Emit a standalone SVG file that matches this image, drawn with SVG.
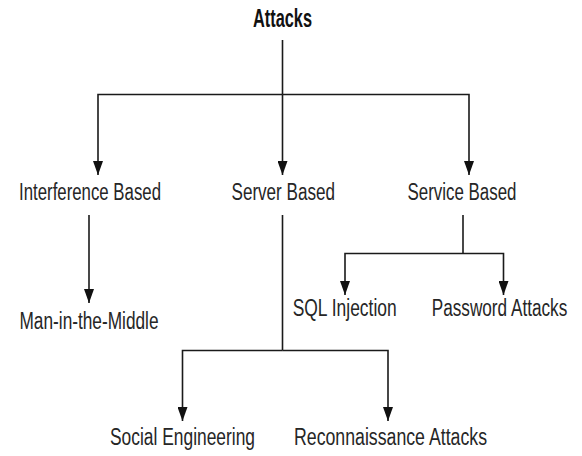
<svg xmlns="http://www.w3.org/2000/svg" width="582" height="456" viewBox="0 0 582 456">
<style>
.lbl{font-family:"Liberation Sans",Arial,sans-serif;font-size:23px;fill:#262626;}
.title{font-family:"Liberation Sans",Arial,sans-serif;font-size:25px;font-weight:bold;fill:#111;}
.c{fill:none;stroke:#1a1a1a;stroke-width:1.6;}
</style>
<defs>
<marker id="ah" viewBox="0 0 14 10" markerWidth="14" markerHeight="10" refX="14" refY="5" orient="auto" markerUnits="userSpaceOnUse">
<path d="M0,0 L14,5 L0,10 z" fill="#111"/>
</marker>
</defs>
<rect width="582" height="456" fill="#fff"/>
<g id="connectors">
<path class="c" d="M282.5,40 V94.5"/>
<path class="c" d="M282.5,94.5 H98 V175" marker-end="url(#ah)"/>
<path class="c" d="M282.5,94.5 V175" marker-end="url(#ah)"/>
<path class="c" d="M282.5,94.5 H469 V175" marker-end="url(#ah)"/>
<path class="c" d="M89,215 V303" marker-end="url(#ah)"/>
<path class="c" d="M463,215 V253.5"/>
<path class="c" d="M463,253.5 H345 V295" marker-end="url(#ah)"/>
<path class="c" d="M463,253.5 H503.5 V295" marker-end="url(#ah)"/>
<path class="c" d="M282.5,215 V350.5"/>
<path class="c" d="M282.5,350.5 H182.5 V421" marker-end="url(#ah)"/>
<path class="c" d="M282.5,350.5 H388 V421" marker-end="url(#ah)"/>
</g>
<g id="attacks"><text class="title" x="253" y="26.5" textLength="59" lengthAdjust="spacingAndGlyphs">Attacks</text></g>
<g id="interference"><text class="lbl" x="19" y="199.5" textLength="142" lengthAdjust="spacingAndGlyphs">Interference Based</text></g>
<g id="server"><text class="lbl" x="231.5" y="199.5" textLength="103.5" lengthAdjust="spacingAndGlyphs">Server Based</text></g>
<g id="service"><text class="lbl" x="407.5" y="199.5" textLength="109" lengthAdjust="spacingAndGlyphs">Service Based</text></g>
<g id="mitm"><text class="lbl" x="19.5" y="328.5" textLength="139" lengthAdjust="spacingAndGlyphs">Man-in-the-Middle</text></g>
<g id="sql"><text class="lbl" x="292.7" y="316" textLength="104" lengthAdjust="spacingAndGlyphs">SQL Injection</text></g>
<g id="password"><text class="lbl" x="431.7" y="316" textLength="135.6" lengthAdjust="spacingAndGlyphs">Password Attacks</text></g>
<g id="social"><text class="lbl" x="110" y="445" textLength="145" lengthAdjust="spacingAndGlyphs">Social Engineering</text></g>
<g id="recon"><text class="lbl" x="294" y="445" textLength="193" lengthAdjust="spacingAndGlyphs">Reconnaissance Attacks</text></g>
</svg>
